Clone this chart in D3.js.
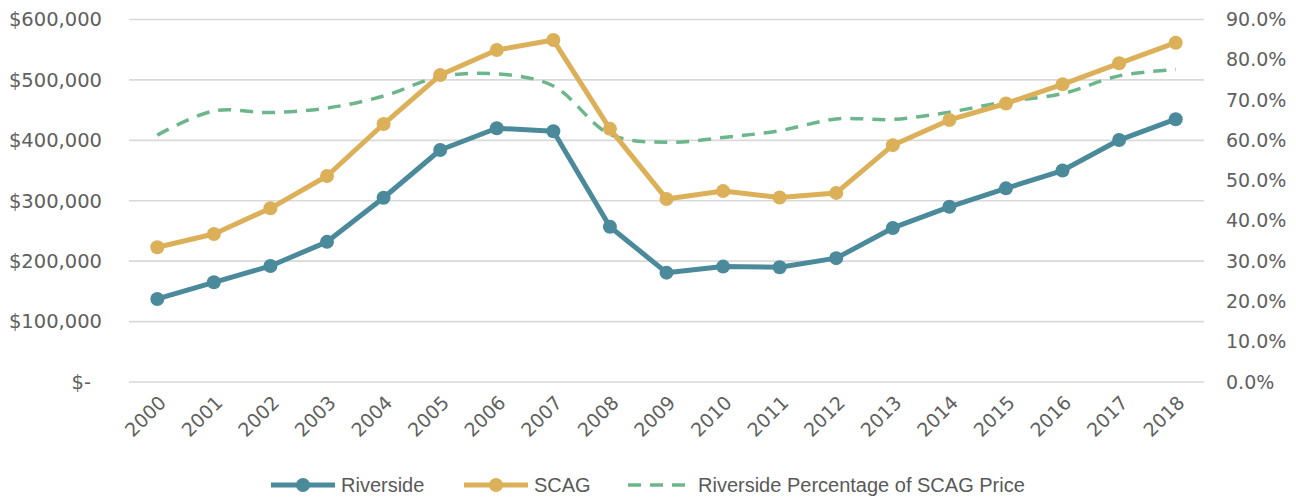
<!DOCTYPE html>
<html>
  <head>
    <meta charset='utf-8'>
    <title></title>
    <script src='https://d3js.org/d3.v7.min.js'></script>
    <style>
      body { margin: 0; background: #fff; }
      .axis text { font-family: 'DejaVu Sans', sans-serif; font-size: 19px; fill: #606060; }
      .axis--y text { font-size: 19.5px; }
      .axis path, .axis line { display: none; }
      .grid line { stroke: #d9d9d9; stroke-width: 1.6px; }
      .legend text { font-family: 'Liberation Sans', sans-serif; font-size: 20px; fill: #595959; }
    </style>
  </head>
  <body>
  <script>
    var years = ['2000','2001','2002','2003','2004','2005','2006','2007','2008','2009',
                 '2010','2011','2012','2013','2014','2015','2016','2017','2018'];
    var riverside = [137500, 165000, 192000, 232000, 305000, 384000, 420000, 415000, 257000, 181000,
                     191000, 190000, 205000, 255000, 290000, 320500, 350000, 400500, 435000];
    var scag = [223000, 245000, 287500, 341000, 427000, 508000, 549500, 566000, 419000, 303000,
                316000, 305500, 313000, 392000, 433700, 461000, 492700, 527500, 561600];
    var pct = [0.613, 0.673, 0.669, 0.680, 0.710, 0.758, 0.765, 0.735, 0.615, 0.595,
               0.607, 0.624, 0.653, 0.652, 0.670, 0.696, 0.716, 0.760, 0.776];
    var leftTicks = [0, 100000, 200000, 300000, 400000, 500000, 600000];
    var rightTicks = [0, 0.1, 0.2, 0.3, 0.4, 0.5, 0.6, 0.7, 0.8, 0.9];

    var width = 1296, height = 497;
    var plot = {left: 129, right: 1204, top: 19.5, bottom: 382};

    var svg = d3.select('body').append('svg')
      .attr('width', width)
      .attr('height', height);

    var x = d3.scalePoint().domain(years).range([plot.left, plot.right]).padding(0.5);
    var y = d3.scaleLinear().domain([0, 600000]).range([plot.bottom, plot.top]);
    var y2 = d3.scaleLinear().domain([0, 0.9]).range([plot.bottom, plot.top]);

    // gridlines
    svg.append('g').attr('class', 'grid')
      .selectAll('line').data(leftTicks).enter().append('line')
      .attr('x1', plot.left).attr('x2', plot.right)
      .attr('y1', function(d) { return y(d); })
      .attr('y2', function(d) { return y(d); });

    // left axis
    var fmt = d3.format(',');
    svg.append('g').attr('class', 'axis axis--y')
      .attr('transform', 'translate(' + (plot.left - 24) + ',0)')
      .call(d3.axisLeft(y).tickValues(leftTicks).tickSize(0)
        .tickFormat(function(d) { return d === 0 ? '$-' : '$' + fmt(d); }))
      .selectAll('text')
      .attr('dx', function(d) { return d === 0 ? -11 : 0; });

    // right axis
    svg.append('g').attr('class', 'axis axis--y2')
      .attr('transform', 'translate(' + (plot.right + 19) + ',0)')
      .call(d3.axisRight(y2).tickValues(rightTicks).tickSize(0).tickFormat(d3.format('.1%')));

    // x axis
    svg.append('g').attr('class', 'axis axis--x')
      .attr('transform', 'translate(0,' + (plot.bottom + 15) + ')')
      .call(d3.axisBottom(x).tickSize(0))
      .selectAll('text')
      .style('text-anchor', 'end')
      .attr('dx', '0.1em')
      .attr('dy', '0.45em')
      .attr('transform', 'rotate(-45)');

    // percentage line (smoothed, dashed)
    var pctLine = d3.line()
      .x(function(d, i) { return x(years[i]); })
      .y(function(d) { return y2(d); })
      .curve(d3.curveCatmullRom.alpha(0.5));

    svg.append('path')
      .datum(pct)
      .attr('fill', 'none')
      .attr('stroke', '#6db68c')
      .attr('stroke-width', 3.5)
      .attr('stroke-dasharray', '13,9')
      .attr('d', pctLine);

    var valLine = d3.line()
      .x(function(d, i) { return x(years[i]); })
      .y(function(d) { return y(d); });

    var series = [
      {name: 'Riverside', values: riverside, color: '#4a8a9a'},
      {name: 'SCAG', values: scag, color: '#dcb058'}
    ];

    series.forEach(function(s) {
      svg.append('path')
        .datum(s.values)
        .attr('fill', 'none')
        .attr('stroke', s.color)
        .attr('stroke-width', 5)
        .attr('stroke-linejoin', 'round')
        .attr('d', valLine);

      svg.append('g').selectAll('circle')
        .data(s.values).enter().append('circle')
        .attr('cx', function(d, i) { return x(years[i]); })
        .attr('cy', function(d) { return y(d); })
        .attr('r', 7)
        .attr('fill', s.color);
    });

    // legend
    var legendItems = [
      {name: 'Riverside', color: '#4a8a9a', x: 271, marker: true},
      {name: 'SCAG', color: '#dcb058', x: 464, marker: true},
      {name: 'Riverside Percentage of SCAG Price', color: '#6db68c', x: 628, marker: false}
    ];
    var legend = svg.append('g').attr('class', 'legend');
    legendItems.forEach(function(item) {
      var g = legend.append('g').attr('transform', 'translate(' + item.x + ',485)');
      g.append('line')
        .attr('x1', 0).attr('x2', 64)
        .attr('stroke', item.color)
        .attr('stroke-width', item.marker ? 5 : 3.5)
        .attr('stroke-dasharray', item.marker ? null : '13,9');
      if (item.marker) {
        g.append('circle').attr('cx', 32).attr('r', 7).attr('fill', item.color);
      }
      g.append('text').attr('x', 70).attr('dy', '0.35em').text(item.name);
    });
  </script>
  </body>
</html>
